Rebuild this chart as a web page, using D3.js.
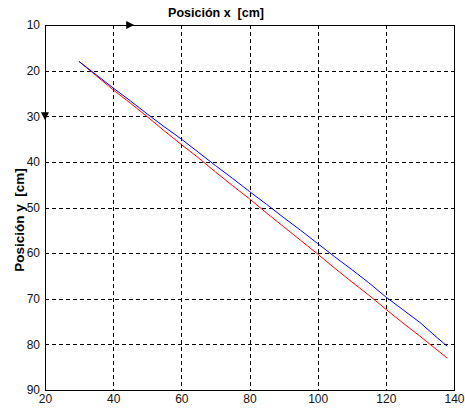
<!DOCTYPE html>
<html><head><meta charset="utf-8">
<script src="https://cdn.jsdelivr.net/npm/d3@7"></script>
<style>body{margin:0;background:#fff}svg{display:block}text{white-space:pre}</style>
</head><body>
<script>
const xVals = [30,35,40,45,50,55,60,65,70,75,80,85,90,95,100,105,110,115,120,125,130,135,138];
const blueY = [18,20.9,23.8,26.6,29.5,32.3,35.0,37.9,40.8,43.6,46.5,49.3,52.2,55.0,57.9,60.8,63.6,66.5,69.6,72.4,75.2,78.5,80.4];
const redY  = [18,21.1,24.2,27.1,30.1,33.2,36.2,39.1,42.2,45.2,48.1,51.2,54.2,57.2,60.2,63.3,66.3,69.2,72.3,75.3,78.2,81.2,83.0];
const xTicks = [20,40,60,80,100,120,140];
const yTicks = [10,20,30,40,50,60,70,80,90];
const titleText = "Posición x  [cm]";
const yLabelText = "Posición y  [cm]";

const W = 465, H = 408;
const m = {l:45, t:25, r:454, b:390};
const svg = d3.select("body").append("svg").attr("width", W).attr("height", H);
const x = d3.scaleLinear().domain([20,140]).range([m.l, m.r]);
const y = d3.scaleLinear().domain([10,90]).range([m.t, m.b]);

// grid
const g = svg.append("g");
g.selectAll(".gx").data(xTicks.slice(1,-1)).enter().append("line")
  .attr("x1", d=>Math.round(x(d))+0.5).attr("x2", d=>Math.round(x(d))+0.5)
  .attr("y1", m.t).attr("y2", m.b)
  .attr("stroke","#000").attr("stroke-width",1).attr("stroke-dasharray","4,3");
g.selectAll(".gy").data(yTicks.slice(1,-1)).enter().append("line")
  .attr("y1", d=>Math.round(y(d))+0.5).attr("y2", d=>Math.round(y(d))+0.5)
  .attr("x1", m.l).attr("x2", m.r)
  .attr("stroke","#000").attr("stroke-width",1).attr("stroke-dasharray","4,3");

// box
svg.append("rect").attr("x", m.l+0.5).attr("y", m.t+0.5)
  .attr("width", m.r-m.l).attr("height", m.b-m.t)
  .attr("fill","none").attr("stroke","#000").attr("stroke-width",1);

// axes
const xAxis = d3.axisBottom(x).tickValues(xTicks).tickSize(0).tickPadding(4);
const yAxis = d3.axisLeft(y).tickValues(yTicks).tickSize(0).tickPadding(5);
const ax = svg.append("g").attr("transform",`translate(0,${m.b})`).call(xAxis);
const ay = svg.append("g").attr("transform",`translate(${m.l},0)`).call(yAxis);
[ax, ay].forEach(a => {
  a.select(".domain").remove();
  a.selectAll("text").attr("font-family","Liberation Sans, Arial, sans-serif")
   .attr("font-size", 12).attr("fill","#111");
});

// lines
const line = d3.line().x((d,i)=>x(xVals[i])).y(d=>y(d));
svg.append("path").datum(redY).attr("d", line).attr("fill","none").attr("stroke","#ff0000").attr("stroke-width",1);
svg.append("path").datum(blueY).attr("d", line).attr("fill","none").attr("stroke","#0000ff").attr("stroke-width",1);

// arrow markers
const ax1 = x(45), ay1 = y(10);
svg.append("path").attr("d", `M${ax1-4},${ay1-4} L${ax1+4},${ay1} L${ax1-4},${ay1+4} Z`).attr("fill","#000");
const ax2 = x(20), ay2 = y(30);
svg.append("path").attr("d", `M${ax2-4},${ay2-4} L${ax2+4},${ay2-4} L${ax2},${ay2+4} Z`).attr("fill","#000");

// title
svg.append("text").attr("x", 216).attr("y", 17).attr("text-anchor","middle")
  .attr("font-family","Liberation Sans, Arial, sans-serif").attr("font-weight","bold")
  .attr("font-size", 12.5).attr("fill","#000").text(titleText);
svg.append("text").attr("transform", `translate(24,220) rotate(-90)`).attr("text-anchor","middle")
  .attr("font-family","Liberation Sans, Arial, sans-serif").attr("font-weight","bold")
  .attr("font-size", 13.5).attr("fill","#000").text(yLabelText);
</script>
</body></html>
